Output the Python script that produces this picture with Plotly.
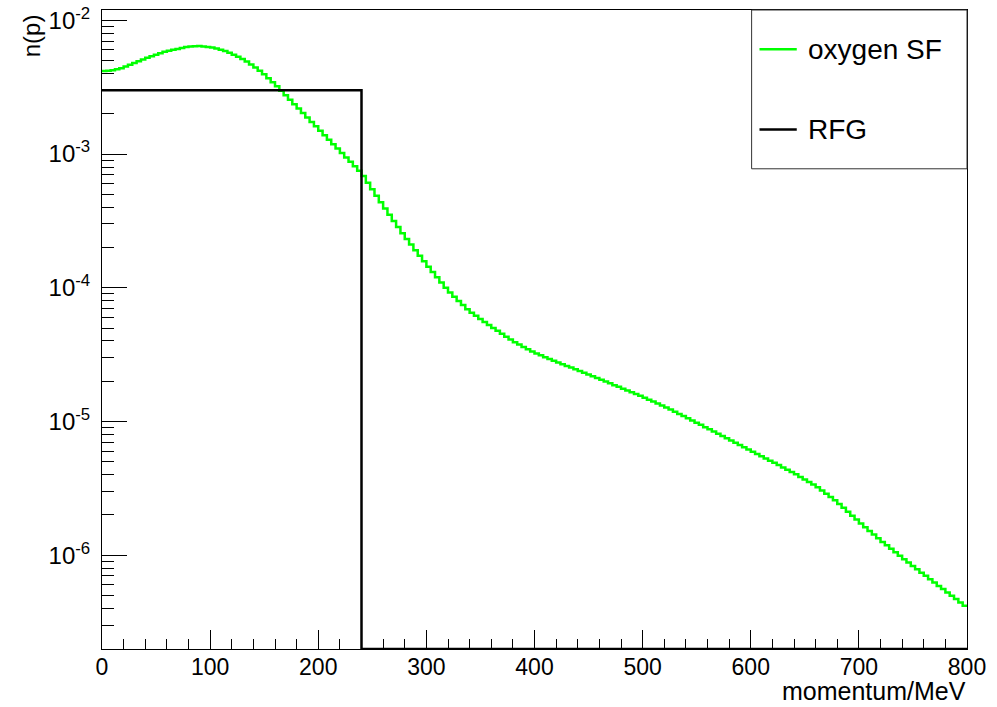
import plotly.graph_objects as go

# Momentum distribution n(p): 200 bins of 4 MeV between 0 and 800 MeV
bin_width = 4.0
p_min, p_max = 0.0, 800.0

# oxygen spectral function, log10 of the bin contents
log10_n_sf = [
    -2.380, -2.378, -2.373, -2.366, -2.358,
    -2.345, -2.332, -2.319, -2.306, -2.293,
    -2.280, -2.269, -2.258, -2.247, -2.236,
    -2.227, -2.220, -2.214, -2.207, -2.200,
    -2.196, -2.194, -2.193, -2.195, -2.199,
    -2.204, -2.211, -2.220, -2.230, -2.243,
    -2.257, -2.272, -2.290, -2.309, -2.331,
    -2.353, -2.378, -2.404, -2.433, -2.463, -2.494,
    -2.527, -2.561, -2.594, -2.627, -2.660, -2.693, -2.727, -2.760, -2.793, -2.826,
    -2.859, -2.893, -2.926, -2.959, -2.992, -3.025, -3.058, -3.092, -3.125,
    -3.165, -3.214, -3.263, -3.312, -3.361,
    -3.408, -3.454, -3.500, -3.546, -3.592,
    -3.636, -3.677, -3.719, -3.761, -3.802,
    -3.843, -3.882, -3.922, -3.961, -4.000,
    -4.036, -4.067, -4.098, -4.129, -4.160,
    -4.187, -4.210, -4.233, -4.256, -4.279,
    -4.301, -4.322, -4.344, -4.366, -4.387,
    -4.407, -4.424, -4.442, -4.459, -4.476,
    -4.492, -4.505, -4.519, -4.533, -4.546,
    -4.559, -4.572, -4.584, -4.596, -4.609,
    -4.622, -4.635, -4.648, -4.661, -4.674,
    -4.687, -4.700, -4.714, -4.728, -4.741,
    -4.755, -4.768, -4.782, -4.795, -4.808,
    -4.822, -4.837, -4.851, -4.865, -4.880,
    -4.895, -4.911, -4.927, -4.943, -4.959,
    -4.975, -4.992, -5.009, -5.025, -5.042,
    -5.058, -5.075, -5.092, -5.109, -5.126,
    -5.142, -5.159, -5.176, -5.193, -5.210,
    -5.226, -5.243, -5.260, -5.276, -5.293,
    -5.309, -5.326, -5.343, -5.360, -5.377,
    -5.395, -5.414, -5.433, -5.452, -5.471,
    -5.492, -5.516, -5.541, -5.565, -5.589,
    -5.616, -5.645, -5.675, -5.704, -5.733,
    -5.762, -5.790, -5.818, -5.845, -5.873,
    -5.900, -5.926, -5.952, -5.978, -6.004,
    -6.030, -6.055, -6.080, -6.105, -6.130,
    -6.154, -6.179, -6.204, -6.229, -6.253,
    -6.278, -6.303, -6.328, -6.353, -6.377,
]

# relativistic Fermi gas: flat up to the Fermi momentum, empty above
rfg_level = 3.0e-3
rfg_p_fermi = 240.0

y_tick_powers = [-6, -5, -4, -3, -2]
y_tick_labels = ["10<sup>-6</sup>", "10<sup>-5</sup>", "10<sup>-4</sup>",
                 "10<sup>-3</sup>", "10<sup>-2</sup>"]

# visible log10 range of the y axis
y_lo, y_hi = -6.701, -1.923
floor = 10 ** y_lo

n_bins = len(log10_n_sf)
edges = [p_min + i * bin_width for i in range(n_bins + 1)]
centers = [e + bin_width / 2 for e in edges[:-1]]
n_sf = [10 ** v for v in log10_n_sf]
n_rfg = [rfg_level if c < rfg_p_fermi else 0.0 for c in centers]
# empty bins sit on the frame bottom of a log plot
n_rfg_draw = [v if v > 0 else floor for v in n_rfg]

fig = go.Figure()
fig.add_trace(go.Scatter(
    x=edges, y=n_sf + [n_sf[-1]], mode="lines", line_shape="hv",
    line=dict(color="#00ff00", width=2.5), name="oxygen SF", showlegend=False))
fig.add_trace(go.Scatter(
    x=edges, y=n_rfg_draw + [n_rfg_draw[-1]], mode="lines", line_shape="hv",
    line=dict(color="#000000", width=2.5), name="RFG", showlegend=False))

font = "Liberation Sans, Arial, Helvetica, sans-serif"

minor_vals = [m * 10 ** k for k in range(-7, -1) for m in range(2, 10)]

fig.update_xaxes(
    range=[p_min, p_max], dtick=100, tick0=0,
    ticks="inside", ticklen=19, tickwidth=1, tickcolor="black",
    minor=dict(dtick=20, tick0=0, ticks="inside", ticklen=10, tickwidth=1, tickcolor="black"),
    showline=True, linecolor="black", linewidth=1, mirror=True,
    showgrid=False, zeroline=False, automargin=False,
    tickfont=dict(family=font, size=23, color="black"),
    ticklabelstandoff=-3,
)
fig.update_yaxes(
    type="log", range=[y_lo, y_hi],
    tickvals=[10 ** k for k in y_tick_powers], ticktext=y_tick_labels,
    ticks="inside", ticklen=25, tickwidth=1, tickcolor="black",
    minor=dict(tickvals=minor_vals, ticks="inside", ticklen=12, tickwidth=1, tickcolor="black"),
    showline=True, linecolor="black", linewidth=1, mirror=True,
    showgrid=False, zeroline=False, automargin=False,
    tickfont=dict(family=font, size=24, color="black"),
    ticklabelstandoff=6,
)

# legend box drawn in the upper-right corner of the frame
fig.add_shape(type="rect", xref="x domain", yref="y domain",
              x0=0.751, x1=1.0, y0=0.7515, y1=1.0,
              line=dict(color="#333333", width=1), fillcolor="white", layer="above")
fig.add_shape(type="line", xref="x domain", yref="y domain",
              x0=0.7601, x1=0.8032, y0=0.9384, y1=0.9384,
              line=dict(color="#00ff00", width=2.5), layer="above")
fig.add_shape(type="line", xref="x domain", yref="y domain",
              x0=0.7601, x1=0.8032, y0=0.8131, y1=0.8131,
              line=dict(color="#000000", width=2.5), layer="above")
fig.add_annotation(text="oxygen SF", xref="x domain", yref="y domain",
                   x=0.8133, y=0.9384, xanchor="left", yanchor="middle",
                   showarrow=False, font=dict(family=font, size=28, color="black"))
fig.add_annotation(text="RFG", xref="x domain", yref="y domain",
                   x=0.8133, y=0.8131, xanchor="left", yanchor="middle",
                   showarrow=False, font=dict(family=font, size=28, color="black"))

# axis titles, ROOT style (right / top aligned)
fig.add_annotation(text="momentum/MeV", xref="paper", yref="paper",
                   x=1.0, y=-0.0665, xanchor="right", yanchor="middle", borderpad=0,
                   showarrow=False, font=dict(family=font, size=25, color="black"))
fig.add_annotation(text="n(p)", xref="paper", yref="paper",
                   x=-0.0815, y=0.9964, xanchor="center", yanchor="top", textangle=-90,
                   showarrow=False, font=dict(family=font, size=24, color="black"))

fig.update_layout(
    width=997, height=707,
    margin=dict(l=102, r=30, t=10, b=58, autoexpand=False),
    paper_bgcolor="white", plot_bgcolor="white",
    showlegend=False,
)

fig.write_html("out.html")
